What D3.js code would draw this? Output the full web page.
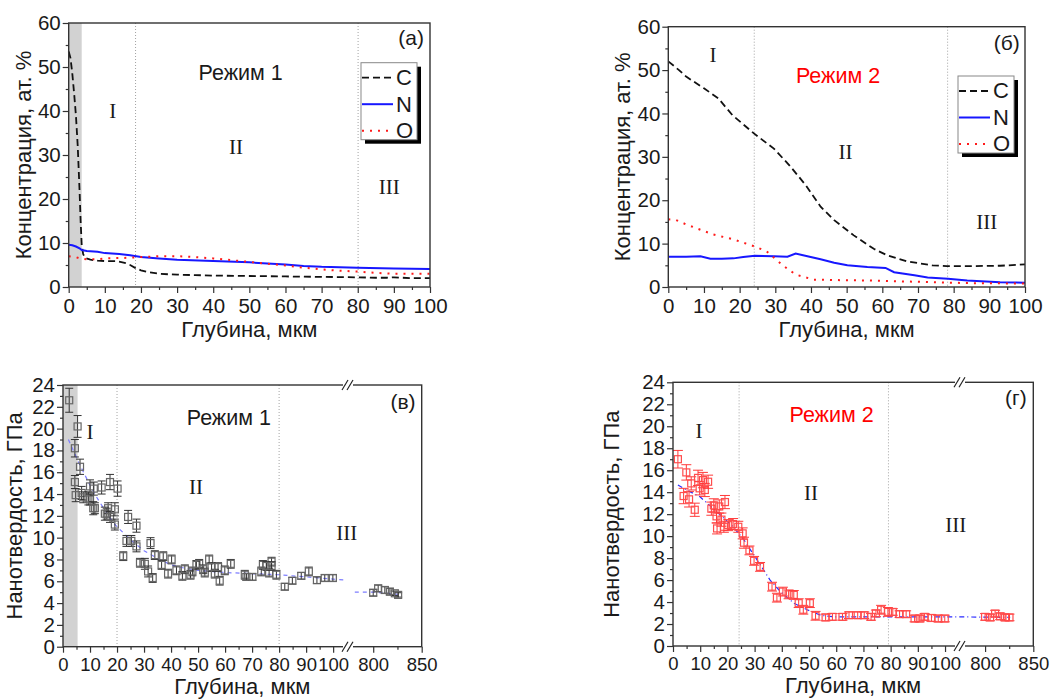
<!DOCTYPE html>
<html>
<head>
<meta charset="utf-8">
<script src="https://cdn.jsdelivr.net/npm/d3@7/dist/d3.min.js"></script>
<style>
  body { margin: 0; background: #fff; }
  svg text { font-family: Arial, "Liberation Sans", sans-serif; fill: #1a1a1a; }
  svg text.roman { font-family: "Times New Roman", "Liberation Serif", serif; }
</style>
</head>
<body>
<svg id="fig" width="1052" height="700"></svg>
<script>
// ---------- данные: концентрация (а) Режим 1 ----------
const concC1 = [[0,53.5],[0.5,52],[1,48.5],[1.5,44],[2,39],[2.5,32],[3,22],[3.3,15],[3.6,9.5],[4,7.5],[4.5,6.6],[6,6.2],[8,6.0],[10,5.9],[13,5.9],[15.5,5.5],[17,5.0],[18.5,4.3],[20,3.8],[22,3.4],[25,3.0],[30,2.8],[35,2.7],[40,2.6],[50,2.5],[60,2.4],[70,2.3],[80,2.2],[85,2.1],[88,2.1],[90,2.2],[95,2.0],[100,2.0]];
const concN1 = [[0,9.6],[1,9.5],[2,9.2],[3,8.8],[3.6,8.4],[5,8.2],[8,8.0],[10,7.7],[14,7.5],[17,7.2],[20,6.8],[25,6.5],[30,6.2],[40,5.9],[50,5.6],[60,5.1],[65,4.8],[70,4.6],[80,4.4],[90,4.2],[100,4.1]];
const concO1 = [[0,7.0],[2,6.8],[3,6.5],[5,6.3],[8,6.3],[10,6.5],[15,6.6],[20,6.8],[25,7.0],[30,7.0],[35,6.8],[40,6.5],[45,6.1],[50,5.7],[55,5.3],[60,4.9],[65,4.4],[70,4.0],[75,3.7],[80,3.5],[85,3.2],[90,3.0],[100,3.0]];

// ---------- данные: концентрация (б) Режим 2 ----------
const concC2 = [[0,52],[3,50],[5,48.5],[10,45.8],[14,43.5],[18,39.6],[24,35.4],[29.6,31.9],[34,28],[38.5,23.5],[42.7,18.5],[46.5,15.4],[52,11.9],[57.6,8.8],[61.4,7.3],[67,5.9],[74,5.0],[78,4.8],[84,4.8],[93,4.9],[100,5.2]];
const concN2 = [[0,7.0],[5,7.0],[9,7.1],[11.8,6.5],[15,6.5],[18.3,6.6],[21,6.9],[24.3,7.2],[29.6,7.1],[33.4,7.0],[35.7,7.7],[39,7.1],[42.7,6.4],[46.5,5.6],[50.2,5.0],[55.8,4.6],[60.9,4.4],[63.3,3.4],[69,2.7],[72.7,2.2],[78.4,1.9],[83.8,1.5],[93,1.1],[100,1.0]];
const concO2 = [[0,15.6],[2,15.5],[5.1,14.4],[12.6,12.1],[18.2,11],[24,9.4],[27.6,8.2],[31.4,5.5],[34,3.8],[36,2.8],[40.7,1.7],[46.4,1.6],[55.8,1.5],[65,1.3],[74.4,1.1],[84,0.9],[100,0.8]];

// ---------- данные: нанотвердость (в) Режим 1: [глубина, H, погрешность] ----------
const hard1 = [[2.3,22.6,1.1],[5.4,20.2,1.0],[4.4,18.2,0.8],[6.3,16.5,0.7],[4.4,15.1,0.6],[4.7,13.9,0.6],[6.9,14.1,0.6],[7.5,13.7,0.5],[9.4,13.6,0.6],[10,14.7,0.6],[10,13.5,0.5],[11.2,12.7,0.6],[11.8,12.7,0.5],[11.4,14.5,0.6],[14.3,14.6,0.6],[15.5,12.2,0.6],[16.2,12.2,0.5],[16.7,12.7,0.5],[17.4,15.1,0.7],[17.4,11.9,0.5],[19.2,12.6,0.6],[19.2,11.2,0.5],[20.2,14.5,0.7],[22.3,8.3,0.4],[23.5,9.7,0.5],[24.1,11.9,0.6],[25.3,9.7,0.5],[27.2,11.1,0.6],[27.2,9.2,0.5],[28.5,7.7,0.4],[30.3,7.6,0.5],[31.5,6.9,0.5],[32.4,9.5,0.5],[33.2,6.3,0.4],[34,8.4,0.4],[36.5,7.5,0.4],[37.1,8.3,0.4],[38.9,6.7,0.4],[40.2,8.0,0.4],[42,7.0,0.4],[44.2,6.5,0.4],[45.1,7.1,0.4],[47.2,6.6,0.4],[47.9,6.9,0.4],[49.4,7.5,0.4],[50.4,7.6,0.4],[51.9,7.1,0.4],[52.5,6.8,0.4],[54.1,8.0,0.4],[55,7.3,0.4],[56.2,6.7,0.4],[57.4,7.3,0.4],[58,6.05,0.4],[59.9,7.0,0.4],[62.1,7.6,0.4],[67.3,6.6,0.4],[67.9,6.4,0.3],[70.1,6.4,0.3],[73.4,6.9,0.4],[74,7.5,0.4],[75.3,7.4,0.4],[76.3,6.8,0.4],[77.2,7.8,0.4],[77.2,7.4,0.4],[79,6.6,0.4],[82.1,5.5,0.3],[84.9,6.05,0.3],[88.2,6.5,0.3],[91,6.9,0.4],[94,6.1,0.3],[96.9,6.3,0.3],[99.9,6.3,0.3],[800,4.95,0.3],[805.1,5.35,0.3],[812,5.2,0.3],[817.2,5.05,0.3],[822.3,4.9,0.2],[825.7,4.75,0.2]];
const fit1a = [[2,19.0],[4,17.9],[6,16.8],[8,15.8],[10,14.8],[12,13.9],[15,12.7],[18,11.6],[20,11.0],[25,9.8],[30,8.8],[35,8.1],[40,7.5],[45,7.2],[50,7.0],[60,6.8],[70,6.7],[80,6.6],[90,6.4],[100,6.2],[105,6.1]];
const fit1b = [[781,5.0],[800,5.0],[815,4.9],[826,4.8]];

// ---------- данные: нанотвердость (г) Режим 2 ----------
const hard2 = [[1.8,17.0,0.8],[4.9,15.8,0.7],[3.9,13.65,0.7],[5.9,13.35,0.7],[6.7,14.8,0.6],[8.0,12.4,0.6],[9.2,15.3,0.7],[9.8,14.35,0.6],[11,15.1,0.7],[11.7,14.2,0.6],[12.9,14.95,0.6],[14.1,12.5,0.6],[15,12.8,0.6],[16,11.8,0.6],[17,12.7,0.6],[16.2,10.7,0.5],[17.8,11.5,0.6],[19.1,13.1,0.6],[18.7,10.85,0.5],[20.3,11.0,0.5],[22.1,11.1,0.5],[24,10.85,0.5],[25.6,10.25,0.5],[26.1,9.4,0.5],[28.1,8.7,0.4],[29.8,7.75,0.4],[32,7.2,0.4],[36.4,5.4,0.4],[38.2,4.4,0.4],[40.4,4.95,0.4],[42.5,4.7,0.4],[44.4,4.65,0.4],[46.2,3.9,0.4],[47.9,3.3,0.4],[50.3,3.9,0.4],[52.4,2.75,0.4],[56.1,2.6,0.3],[58.6,2.65,0.3],[62.3,2.65,0.3],[64.7,2.8,0.3],[67.9,2.8,0.3],[70.3,2.8,0.3],[72.8,2.65,0.3],[74.6,2.97,0.3],[76.5,3.3,0.4],[79,3.1,0.4],[80.8,3.1,0.3],[83.3,2.9,0.3],[85.7,2.9,0.3],[88.8,2.5,0.3],[90.7,2.5,0.3],[92.5,2.65,0.3],[95,2.55,0.3],[97.5,2.5,0.3],[99.9,2.5,0.3],[800,2.65,0.3],[805.2,2.6,0.3],[810.4,2.95,0.3],[815.6,2.7,0.3],[820.8,2.6,0.3],[825.3,2.6,0.3]];
const fit2 = [[1.8,14.65],[5,14.2],[9.8,13.6],[15.3,12.4],[22.1,10.85],[26.1,9.65],[31,7.8],[35.7,6.0],[39.5,4.95],[44.4,3.9],[49.3,3.3],[54.3,2.8],[59.3,2.65],[70,2.65],[100,2.65],[105.5,2.65],[774,2.65],[826,2.6]];

// ---------- оси ----------
const concXTicks = d3.range(0, 101, 10);
const concXMinor = d3.range(5, 100, 10);
const concYTicks = d3.range(0, 61, 10);
const concYMinor = d3.range(5, 60, 10);
const hardXTicks = [0,10,20,30,40,50,60,70,80,90,100,800,850];
const hardXMinor = [5,15,25,35,45,55,65,75,85,95,825];
const hardYTicks = d3.range(0, 25, 2);
const hardYMinor = d3.range(1, 24, 2);
const series = ["C", "N", "O"];

// ---------- helpers ----------
const svg = d3.select("#fig");
const STY = {
  C: { stroke: "#111", width: 1.8, dash: "7,4" },
  N: { stroke: "#1717ff", width: 2, dash: null },
  O: { stroke: "#ff1a1a", width: 2, dash: "2,6" }
};

function frame(g, w, h) {
  g.append("rect").attr("width", w).attr("height", h)
    .attr("fill", "none").attr("stroke", "#333").attr("stroke-width", 1.4);
}

function axes(g, x, y, h, xt, xm, yt, ym, xfs) {
  const fmt = d3.format("d");
  g.append("g").attr("transform", `translate(0,${h})`)
    .call(d3.axisBottom(x).tickValues(xm).tickSize(3).tickFormat(""));
  const gx = g.append("g").attr("transform", `translate(0,${h})`)
    .call(d3.axisBottom(x).tickValues(xt).tickSize(6).tickPadding(5).tickFormat(fmt));
  g.append("g").call(d3.axisLeft(y).tickValues(ym).tickSize(3).tickFormat(""));
  g.append("g").call(d3.axisLeft(y).tickValues(yt).tickSize(6).tickPadding(2).tickFormat(fmt));
  g.selectAll(".domain").remove();
  g.selectAll(".tick line").attr("stroke", "#333").attr("stroke-width", 1.2);
  g.selectAll(".tick text").attr("font-size", 20.5).attr("fill", "#1a1a1a")
    .attr("font-family", "Arial, 'Liberation Sans', sans-serif");
  gx.selectAll(".tick text").attr("font-size", xfs);
}

function titles(g, w, h, ytext, yx, xgap) {
  g.append("text").attr("x", w / 2).attr("y", h + xgap)
    .attr("text-anchor", "middle").attr("font-size", 22).text("Глубина, мкм");
  g.append("text").attr("transform", `translate(${yx},${h / 2}) rotate(-90)`)
    .attr("text-anchor", "middle").attr("font-size", 22).text(ytext);
}

function notes(g, x, y, n) {
  g.append("text").attr("x", x(n.tag[0])).attr("y", y(n.tag[1]))
    .attr("text-anchor", "middle").attr("font-size", 21).text(n.tag[2]);
  g.append("text").attr("x", x(n.mode[0])).attr("y", y(n.mode[1]))
    .attr("text-anchor", "middle").attr("font-size", 21.5)
    .style("fill", n.mode[3]).text(n.mode[2]);
  n.roman.forEach(r => g.append("text").attr("class", "roman")
    .attr("x", x(r[0])).attr("y", y(r[1])).attr("text-anchor", "middle")
    .attr("font-size", 21).text(r[2]));
}

function vlines(g, x, h, xs) {
  xs.forEach(v => g.append("line").attr("x1", x(v)).attr("x2", x(v))
    .attr("y1", 0).attr("y2", h).attr("stroke", "#999")
    .attr("stroke-width", 0.9).attr("stroke-dasharray", "1,2"));
}

function breakMark(g, bx, yy) {
  g.append("rect").attr("x", bx - 5).attr("y", yy - 2.5).attr("width", 10).attr("height", 5).attr("fill", "#fff");
  [-3, 2].forEach(dx => g.append("line")
    .attr("x1", bx + dx - 3).attr("y1", yy + 5).attr("x2", bx + dx + 3).attr("y2", yy - 5)
    .attr("stroke", "#222").attr("stroke-width", 1.2));
}

function legend(g, lx, ly) {
  const bw = 56, bh = 77;
  g.append("rect").attr("x", lx + 4).attr("y", ly + 4).attr("width", bw).attr("height", bh).attr("fill", "#000");
  g.append("rect").attr("x", lx).attr("y", ly).attr("width", bw).attr("height", bh)
    .attr("fill", "#fff").attr("stroke", "#888").attr("stroke-width", 1);
  series.forEach((s, i) => {
    const yy = ly + 15 + i * 26.5;
    g.append("line").attr("x1", lx + 1).attr("x2", lx + 32).attr("y1", yy).attr("y2", yy)
      .attr("stroke", STY[s].stroke).attr("stroke-width", STY[s].width)
      .attr("stroke-dasharray", STY[s].dash);
    g.append("text").attr("x", lx + 35).attr("y", yy + 7.5).attr("font-size", 22).text(s);
  });
}

/* ---------- концентрация ---------- */
function concPanel(box, data, band, dots, n, leg) {
  const g = svg.append("g").attr("transform", `translate(${box.l},${box.t})`);
  const x = d3.scaleLinear().domain([0, 100]).range([0, box.w]);
  const y = d3.scaleLinear().domain([0, 60]).range([box.h, 0]);

  if (band) g.append("rect").attr("x", x(band[0])).attr("width", x(band[1]) - x(band[0]))
    .attr("y", 0).attr("height", box.h).attr("fill", "#d2d2d2");
  vlines(g, x, box.h, dots);

  const line = d3.line().x(d => x(d[0])).y(d => y(d[1]));
  series.forEach((s, i) => g.append("path").datum(data[i]).attr("d", line)
    .attr("fill", "none").attr("stroke", STY[s].stroke).attr("stroke-width", STY[s].width)
    .attr("stroke-dasharray", STY[s].dash));

  frame(g, box.w, box.h);
  axes(g, x, y, box.h, concXTicks, concXMinor, concYTicks, concYMinor, 20.5);
  titles(g, box.w, box.h, "Концентрация, ат. %", -38, 50);
  notes(g, x, y, n);
  legend(g, leg[0], leg[1]);
}

/* ---------- нанотвердость ---------- */
function hardPanel(box, pts, fits, band, dots, n, col) {
  const g = svg.append("g").attr("transform", `translate(${box.l},${box.t})`);
  const x = d3.scaleLinear().domain([0, 105.5, 774, 850]).range([0, box.bx, box.bx, box.w]);
  const y = d3.scaleLinear().domain([0, 24]).range([box.h, 0]);

  if (band) g.append("rect").attr("x", x(band[0])).attr("width", x(band[1]) - x(band[0]))
    .attr("y", 0).attr("height", box.h).attr("fill", "#d2d2d2");
  vlines(g, x, box.h, dots);

  const line = d3.line().x(d => x(d[0])).y(d => y(d[1]));
  fits.forEach(f => g.append("path").datum(f).attr("d", line).attr("fill", "none")
    .attr("stroke", col.fit).attr("stroke-width", 1.2).attr("stroke-dasharray", col.fitDash));

  const pg = g.selectAll("g.pt").data(pts).join("g").attr("class", "pt");
  pg.append("line").attr("x1", d => x(d[0])).attr("x2", d => x(d[0]))
    .attr("y1", d => y(d[1] - d[2])).attr("y2", d => y(d[1] + d[2]))
    .attr("stroke", col.err).attr("stroke-width", 1);
  [1, -1].forEach(sg => pg.append("line")
    .attr("x1", d => x(d[0]) - col.cap).attr("x2", d => x(d[0]) + col.cap)
    .attr("y1", d => y(d[1] + sg * d[2])).attr("y2", d => y(d[1] + sg * d[2]))
    .attr("stroke", col.err).attr("stroke-width", 1));
  pg.append("rect").attr("x", d => x(d[0]) - 3.5).attr("y", d => y(d[1]) - 3.5)
    .attr("width", 7).attr("height", 7).attr("fill", "none")
    .attr("stroke", col.sq).attr("stroke-width", 1.2);

  frame(g, box.w, box.h);
  axes(g, x, y, box.h, hardXTicks, hardXMinor, hardYTicks, hardYMinor, 18.5);
  breakMark(g, box.bx, 0);
  breakMark(g, box.bx, box.h);
  titles(g, box.w, box.h, "Нанотвердость, ГПа", box.yt, 47);
  notes(g, x, y, n);
}

concPanel({ l: 68.7, t: 23, w: 361.3, h: 264 }, [concC1, concN1, concO1], [0, 3.6], [18.5, 80.1],
  { tag: [94.8, 55, "(а)"], mode: [47.6, 47, "Режим 1", "#1a1a1a"],
    roman: [[12.2, 38.4, "I"], [46.3, 30.2, "II"], [88.7, 21.1, "III"]] }, [292.3, 39.7]);

concPanel({ l: 668.3, t: 26.7, w: 356.7, h: 260.3 }, [concC2, concN2, concO2], null, [24.1, 78.3],
  { tag: [94.9, 54.6, "(б)"], mode: [47.6, 47, "Режим 2", "#ff0000"],
    roman: [[12.5, 51.8, "I"], [49.7, 29.5, "II"], [89.3, 13.4, "III"]] }, [289.7, 49.3]);

hardPanel({ l: 63, t: 385, w: 358.7, h: 261.7, bx: 285, yt: -41 }, hard1, [fit1a, fit1b], [0, 5.4], [20, 80],
  { tag: [830.7, 21.8, "(в)"], mode: [61.4, 20.3, "Режим 1", "#1a1a1a"],
    roman: [[10, 19.05, "I"], [49.2, 14.0, "II"], [105, 9.8, "III"]] },
  { sq: "#666", err: "#333", cap: 4, fit: "#7d7dff", fitDash: "4,4" });

hardPanel({ l: 673, t: 382.3, w: 360.3, h: 263.7, bx: 287, yt: -54 }, hard2, [fit2], null, [24.3, 79.2],
  { tag: [832, 21.9, "(г)"], mode: [58.3, 20.4, "Режим 2", "#ff0000"],
    roman: [[9.6, 18.9, "I"], [50.7, 13.3, "II"], [103.9, 10.4, "III"]] },
  { sq: "#ff4d4d", err: "#ff3a3a", cap: 5, fit: "#2a2aff", fitDash: "5,3,1,3" });
</script>
</body>
</html>
